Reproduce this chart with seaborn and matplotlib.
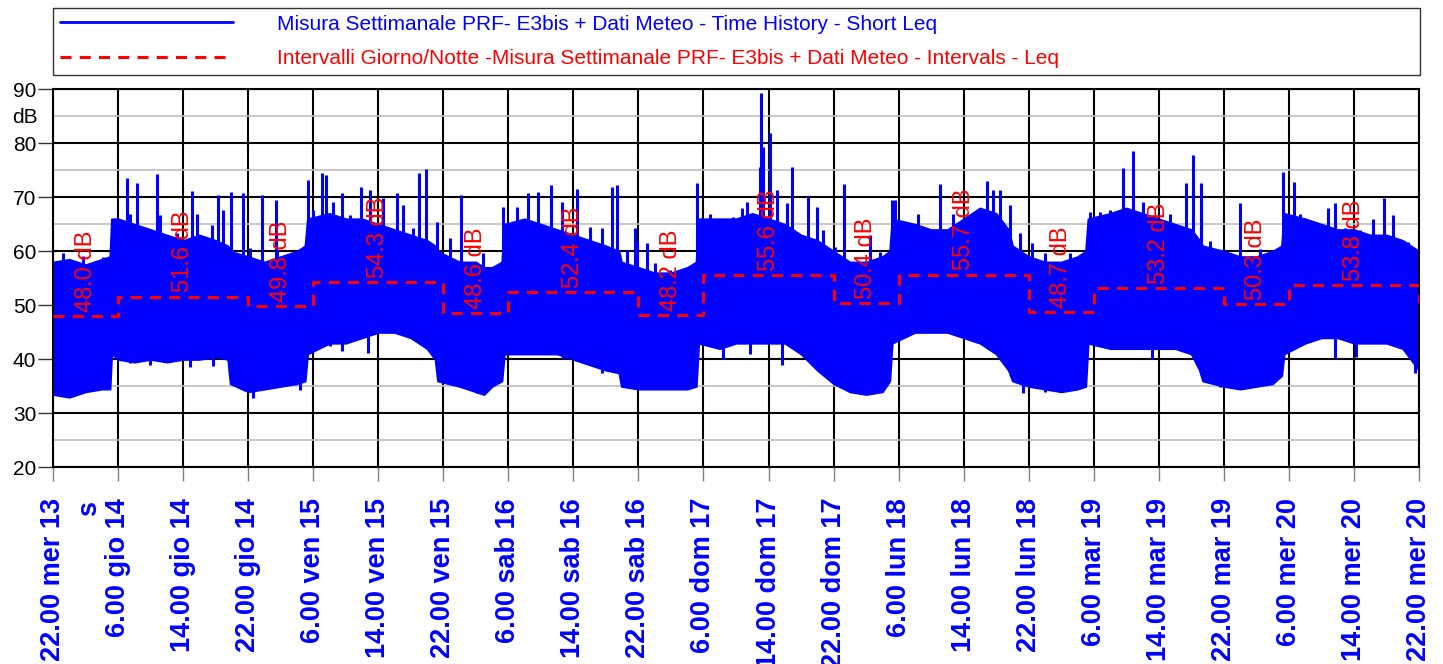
import matplotlib
matplotlib.use("Agg")
import matplotlib.pyplot as plt
import matplotlib.transforms as mtransforms
from matplotlib.lines import Line2D
import seaborn as sns

# ── data ──────────────────────────────────────────────────────────────────────
# hours since 22.00 mer 13; envelope of the dense Short Leq trace (dB)
env_hours = [0, 2, 4, 6, 7.0,
             7.2, 8, 10, 12, 14, 16, 18, 20, 21.5,
             21.8, 24, 26, 28, 30, 31.0,
             31.3, 34, 36, 38, 40, 42, 44, 46, 47.0,
             47.3, 50, 52, 53, 54, 55.2,
             55.5, 58, 60, 62, 64, 66, 68, 69.6,
             69.9, 72, 74, 76, 78, 79.1,
             79.4, 82, 84, 86, 88, 90, 92, 94,
             96, 98, 100, 102, 102.9,
             103.2, 106, 108, 110, 112, 114, 116, 117.5,
             118.0, 120, 122, 124, 126, 127.0,
             127.3, 130, 132, 134, 136, 138, 140, 141.0,
             141.4, 144, 146, 148, 150, 151.1,
             151.4, 154, 156, 158, 160, 162, 164, 166, 167, 168]
env_high = [58, 58.5, 57.5, 58.5, 59,
            66, 66, 65, 64, 63, 62, 63, 62, 61,
            60, 59, 58, 59, 60, 61,
            66, 67, 66, 66, 65, 64, 63, 62, 61,
            60, 58, 58, 57, 57, 58,
            65, 66, 65, 64, 63, 62, 61, 60,
            58, 57, 56, 56, 57, 58,
            66, 66, 66, 67, 66, 65, 63, 62,
            60, 58, 58, 59, 60,
            66, 65, 64, 64, 66, 68, 67, 64,
            61, 59, 58, 58, 59, 60,
            66, 67, 68, 67, 66, 65, 64, 62,
            61, 60, 59, 59, 60, 61,
            67, 66, 65, 64, 64, 63, 63, 62, 61, 60]
env_low = [33.5, 33, 34, 34.5, 34.5,
           41, 40, 39.5, 40, 39.5, 40, 40, 40.5, 40,
           35.5, 34, 34.5, 35, 35.5, 36,
           41, 43, 43, 44, 45, 45, 44, 42, 40,
           36, 35, 34, 33.5, 35, 36,
           41, 41, 41, 41, 40, 39, 38, 37.5,
           35, 34.5, 34.5, 34.5, 34.5, 35,
           43, 42, 43, 43, 43, 43, 41, 38,
           35.5, 34, 33.5, 34, 36,
           43, 45, 45, 45, 44, 43, 41, 38,
           36, 35, 34.5, 34, 34.5, 35,
           43, 42, 42, 42, 42, 42, 41, 38,
           36, 35, 34.5, 35, 35.5, 37,
           41, 43, 44, 44, 43, 43, 43, 42, 40, 38]

# peaks of the trace above the dense band
spike_hours = [1.2, 3.7, 6.1, 9.1, 9.5, 10.3, 11.6, 12.8, 13.2, 15.3, 17.1,
               17.7, 19.6, 20.3, 20.9, 21.9, 23.4, 24.2, 25.7, 27.4, 27.5,
               30.1, 31.4, 32.0, 33.1, 33.6, 34.4, 35.5, 36.5, 37.9, 39.0,
               40.6, 42.3, 43.0, 44.3, 45.0, 45.9, 47.2, 48.8, 50.2, 52.9,
               55.3, 57.1, 58.4, 59.6, 61.2, 62.6, 64.4, 66.0, 67.5, 68.7,
               69.4, 70.6, 71.6, 71.8, 73.1, 74.0, 75.9, 79.2, 80.8, 83.6,
               84.7, 85.4, 87.0, 87.1, 87.3, 88.2, 89.0, 90.3, 90.9, 92.9,
               94.0, 94.7, 96.2, 97.3, 100.5, 101.7, 103.2, 103.6, 106.4,
               109.1, 110.7, 114.9, 115.6, 116.5, 117.7, 118.9, 120.4, 122.0,
               125.1, 127.5, 128.8, 130.0, 131.6, 132.8, 134.1, 137.4, 139.3,
               140.2, 141.2, 142.3, 143.9, 146.0, 148.4, 151.3, 152.6, 153.4,
               155.2, 156.8, 157.7, 158.9, 160.8, 162.3, 163.7, 164.8, 165.7,
               166.7]
spike_peaks = [59.7, 59.2, 59.0, 73.5, 67.0, 72.7, 63.0, 74.3, 66.7, 63.4, 71.2,
               67.0, 64.9, 70.5, 67.6, 71.0, 70.8, 60.6, 70.5, 69.5, 60.0,
               60.2, 73.2, 67.6, 74.5, 74.1, 69.1, 70.8, 66.7, 72.0, 71.3,
               69.9, 70.8, 68.6, 64.3, 74.5, 75.2, 65.4, 62.4, 70.4, 59.7,
               68.2, 68.2, 70.8, 71.0, 72.3, 69.1, 71.5, 64.5, 64.3, 72.0,
               72.3, 60.2, 64.4, 62.0, 61.5, 57.8, 56.5, 72.6, 67.0, 66.4,
               68.0, 69.2, 75.6, 89.3, 79.3, 82.0, 71.3, 68.9, 75.6, 70.0,
               68.2, 63.9, 60.8, 72.5, 63.0, 59.9, 69.5, 69.5, 67.0,
               72.5, 67.0, 73.0, 71.3, 71.3, 68.6, 63.4, 61.5, 59.7,
               59.7, 67.3, 67.3, 67.6, 75.4, 78.6, 69.2, 67.0, 72.6,
               77.8, 72.7, 62.0, 60.2, 68.9, 60.5, 74.6, 72.8, 67.0,
               64.5, 68.0, 68.9, 64.3, 64.0, 66.0, 69.8, 66.8, 61.5,
               61.8]

# dips of the trace below the dense band
dip_hours = [9.5, 11.9, 16.8, 19.7, 24.6, 30.4, 34.1, 35.5, 38.7, 52.1, 62.7,
             67.5, 68.5, 82.4, 85.7, 89.7, 96.5, 100.5, 119.3, 122.0, 135.2,
             143.5, 149.9, 157.7, 160.2, 167.5]
dip_troughs = [39.3, 39.0, 38.6, 38.8, 32.9, 34.3, 42.4, 41.6, 41.1, 33.8, 40.0,
               37.5, 37.8, 40.0, 41.0, 39.0, 36.0, 33.8, 33.8, 34.0, 40.0,
               34.8, 35.8, 40.3, 40.5, 37.5]

# day / night intervals (start hour) and their Leq
interval_start = [0, 8, 24, 32, 48, 56, 72, 80, 96, 104, 120, 128, 144, 152, 168]
interval_leq = [48.0, 51.6, 49.8, 54.3, 48.6, 52.4, 48.2, 55.6,
                50.4, 55.7, 48.7, 53.2, 50.3, 53.8, 50.5]

tick_hours = list(range(0, 169, 8))
tick_labels = ["22.00 mer 13", "6.00 gio 14", "14.00 gio 14", "22.00 gio 14",
               "6.00 ven 15", "14.00 ven 15", "22.00 ven 15", "6.00 sab 16",
               "14.00 sab 16", "22.00 sab 16", "6.00 dom 17", "14.00 dom 17",
               "22.00 dom 17", "6.00 lun 18", "14.00 lun 18", "22.00 lun 18",
               "6.00 mar 19", "14.00 mar 19", "22.00 mar 19", "6.00 mer 20",
               "14.00 mer 20", "22.00 mer 20"]

series_names = [
    "Misura Settimanale PRF- E3bis + Dati Meteo - Time History - Short Leq",
    "Intervalli Giorno/Notte -Misura Settimanale PRF- E3bis + Dati Meteo - Intervals - Leq",
]

# ── style ─────────────────────────────────────────────────────────────────────
BLUE = "#0000ff"
RED = "#ff0000"
DASH = (0, (3.6, 2.7))

sns.set_theme(style="white")
plt.rcParams["font.family"] = ["Liberation Sans", "DejaVu Sans"]

W, H = 1443, 664
fig = plt.figure(figsize=(W / 100, H / 100), dpi=100)
ax = fig.add_axes([53 / W, (H - 467.3) / H, (1419 - 53) / W, (467.3 - 89.3) / H])

# time history: dense band + peaks + dips
ax.fill_between(env_hours, env_low, env_high, color=BLUE, lw=1.5, zorder=2)
ax.vlines(spike_hours, 45, spike_peaks, color=BLUE, lw=2.2, zorder=2)
ax.vlines(dip_hours, dip_troughs, 47, color=BLUE, lw=2.2, zorder=2)

# day / night interval Leq
sns.lineplot(x=interval_start, y=interval_leq, drawstyle="steps-post",
             color=RED, lw=2.2, linestyle=DASH, ax=ax, zorder=3)
for i, v in enumerate(interval_leq[:-1]):
    mid = (interval_start[i] + interval_start[i + 1]) / 2
    ax.annotate(f"{v:.1f} dB", xy=(mid, v), xytext=(0, 3),
                textcoords="offset points", rotation=90, ha="center",
                va="bottom", color=RED, fontsize=17, zorder=4)

# axes
ax.set_xlim(0, 168)
ax.set_ylim(20, 90)
ax.set_xticks(tick_hours)
ax.set_xticklabels(tick_labels, rotation=90, fontweight="bold")
ax.set_yticks(range(20, 91, 10))
ax.set_yticks(range(25, 90, 10), minor=True)
ax.set_axisbelow(True)
ax.grid(which="major", color="black", lw=1.5)
ax.grid(which="minor", axis="y", color="#c0c0c0", lw=1.2)
ax.tick_params(axis="y", which="major", direction="out", length=11, width=1,
               color="#333333", labelsize=15, labelcolor="black", pad=1, left=True)
ax.tick_params(axis="y", which="minor", length=0)
ax.tick_params(axis="x", direction="out", length=10, width=1, color="#808080",
               labelsize=19.5, labelcolor=BLUE, pad=12, bottom=True)
for s in ax.spines.values():
    s.set_color("black")
    s.set_linewidth(1.5)
ax.set_xlabel("")
ax.set_ylabel("")

# unit labels
yt = mtransforms.blended_transform_factory(ax.transAxes, ax.transData)
ax.text(-0.011, 84.7, "dB", transform=yt, ha="right", va="center",
        fontsize=15, color="black")
ax.annotate("s", xy=(4.4, 0), xycoords=("data", "axes fraction"),
            xytext=(0, -24), textcoords="offset points", rotation=90,
            ha="center", va="top", color=BLUE, fontsize=19.5, fontweight="bold")

# legend box on top
handles = [Line2D([], [], color=BLUE, lw=2),
           Line2D([], [], color=RED, lw=2.2, linestyle=DASH)]
leg = fig.legend(handles, series_names, loc="lower left",
                 bbox_to_anchor=(53 / W, (H - 75) / H, (1420 - 53) / W, 65 / H),
                 mode="expand", frameon=True, fancybox=False, fontsize=15,
                 handlelength=8.3, handletextpad=2.1, borderpad=0.33,
                 labelspacing=0.75, labelcolor="linecolor", borderaxespad=0)
leg.get_frame().set_edgecolor("black")
leg.get_frame().set_linewidth(1.0)

fig.savefig("out.png", dpi=100)
